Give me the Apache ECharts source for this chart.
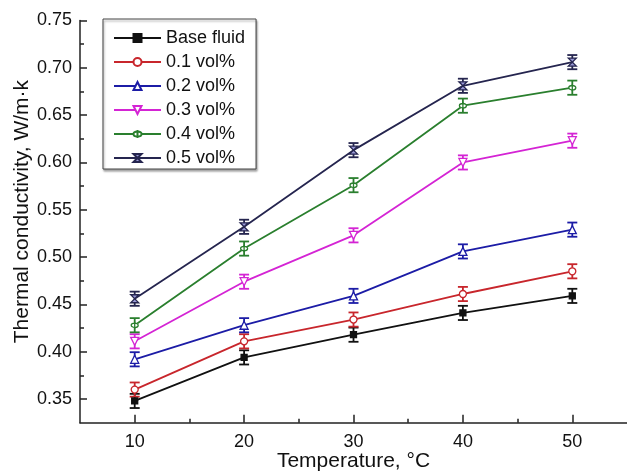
<!DOCTYPE html>
<html>
<head>
<meta charset="utf-8">
<script src="https://cdn.jsdelivr.net/npm/echarts@6/dist/echarts.min.js"></script>
<style>
  html, body { margin: 0; padding: 0; background: #fff; }
  #chart { width: 627px; height: 472px; }
</style>
</head>
<body>
<div id="chart"></div>
<script>
// Temperature (°C) on the x axis
const temperatures = [10, 20, 30, 40, 50];

// Thermal conductivity, W/m·k
const baseFluid = [0.348, 0.394, 0.418, 0.441, 0.459];
const vol01 = [0.360, 0.411, 0.434, 0.461, 0.485];
const vol02 = [0.392, 0.428, 0.459, 0.506, 0.529];
const vol03 = [0.411, 0.474, 0.523, 0.600, 0.623];
const vol04 = [0.428, 0.509, 0.576, 0.660, 0.679];
const vol05 = [0.456, 0.532, 0.613, 0.681, 0.706];

// Half-height of each error bar
const errBase = [0.0075, 0.0075, 0.0075, 0.0075, 0.0075];
const err01 = [0.0075, 0.0075, 0.0075, 0.0075, 0.0075];
const err02 = [0.0075, 0.0075, 0.0075, 0.0075, 0.0075];
const err03 = [0.0075, 0.0075, 0.0075, 0.0075, 0.0075];
const err04 = [0.0075, 0.0075, 0.0075, 0.0075, 0.0075];
const err05 = [0.0075, 0.0075, 0.0075, 0.0075, 0.0075];

const seriesNames = ['Base fluid', '0.1 vol%', '0.2 vol%', '0.3 vol%', '0.4 vol%', '0.5 vol%'];

// Axis ticks
const xMajorTicks = [10, 20, 30, 40, 50];
const xMinorTicks = [15, 25, 35, 45];
const yMajorTicks = [0.35, 0.40, 0.45, 0.50, 0.55, 0.60, 0.65, 0.70, 0.75];
const yMinorTicks = [0.375, 0.425, 0.475, 0.525, 0.575, 0.625, 0.675, 0.725];

const values = [baseFluid, vol01, vol02, vol03, vol04, vol05];
const errors = [errBase, err01, err02, err03, err04, err05];
const colors = ['#111111', '#c8262c', '#1c1ca6', '#d424d4', '#2a7f2e', '#25254f'];
const fills = ['#111111', '#ffffff', '#ffffff', '#ffffff', '#ffffff', '#9a9ad8'];
const symbols = [
  'rect',
  'circle',
  'triangle',
  'triangle',
  'path://M0,-5 A5,5 0 1 1 0,5 A5,5 0 1 1 0,-5 Z M0,-8 L0,8',
  'path://M-4,-5 L4,-5 L-4,5 L4,5 Z'
];
const symbolRotates = [0, 0, 0, 180, 0, 0];
const symbolSizes = [6, 7, 8, 8, 7, 8];

const FONT = '"Liberation Sans", Arial, Helvetica, sans-serif';

const chart = echarts.init(document.getElementById('chart'), null, { renderer: 'canvas' });

const series = [];
values.forEach((vals, i) => {
  // error bars drawn as vertical whiskers with caps
  series.push({
    name: seriesNames[i] + ' error',
    type: 'custom',
    xAxisIndex: 0,
    yAxisIndex: 0,
    z: 3,
    silent: true,
    data: temperatures.map((t, k) => [t, vals[k] - errors[i][k], vals[k] + errors[i][k]]),
    renderItem: function (params, api) {
      const lo = api.coord([api.value(0), api.value(1)]);
      const hi = api.coord([api.value(0), api.value(2)]);
      const hw = 5;
      const style = { stroke: colors[i], lineWidth: 1.8, fill: null };
      return {
        type: 'group',
        children: [
          { type: 'line', shape: { x1: lo[0], y1: lo[1], x2: hi[0], y2: hi[1] }, style: style },
          { type: 'line', shape: { x1: lo[0] - hw, y1: lo[1], x2: lo[0] + hw, y2: lo[1] }, style: style },
          { type: 'line', shape: { x1: hi[0] - hw, y1: hi[1], x2: hi[0] + hw, y2: hi[1] }, style: style }
        ]
      };
    }
  });
  series.push({
    name: seriesNames[i],
    type: 'line',
    xAxisIndex: 0,
    yAxisIndex: 0,
    z: 4,
    data: temperatures.map((t, k) => [t, vals[k]]),
    symbol: symbols[i],
    symbolSize: symbolSizes[i],
    symbolRotate: symbolRotates[i],
    showAllSymbol: true,
    lineStyle: { color: colors[i], width: 1.8 },
    itemStyle: { color: fills[i], borderColor: colors[i], borderWidth: 1.3 },
    emphasis: { disabled: true },
    animation: false
  });
});

const option = {
  animation: false,
  backgroundColor: '#ffffff',
  textStyle: { fontFamily: FONT },
  grid: { left: 80, right: 0, top: 20.5, bottom: 49.3, containLabel: false, outerBoundsMode: 'none' },
  legend: {
    data: seriesNames,
    orient: 'vertical',
    left: 103,
    top: 19,
    padding: [10, 11, 2, 10],
    itemWidth: 47,
    itemHeight: 10,
    itemGap: 6,
    borderColor: '#444',
    borderWidth: 1,
    backgroundColor: '#ffffff',
    shadowColor: 'rgba(0,0,0,0.35)',
    shadowBlur: 2,
    shadowOffsetX: 1,
    shadowOffsetY: 2,
    textStyle: { fontFamily: FONT, fontSize: 18, color: '#111', lineHeight: 18 },
    selectedMode: false
  },
  xAxis: [
    {
      type: 'value',
      min: 5,
      max: 55,
      interval: 5,
      name: 'Temperature, °C',
      nameLocation: 'middle',
      nameGap: 28,
      nameMoveOverlap: false,
      nameTextStyle: { fontFamily: FONT, fontSize: 21, color: '#111' },
      axisLine: { show: true, onZero: false, lineStyle: { color: '#222', width: 1.5 } },
      axisTick: { show: true, inside: true, length: 8, customValues: xMajorTicks, lineStyle: { color: '#222', width: 1.5 } },
      axisLabel: { customValues: xMajorTicks, fontFamily: FONT, fontSize: 18, color: '#111', margin: 10 },
      splitLine: { show: false }
    },
    {
      type: 'value',
      position: 'bottom',
      min: 5,
      max: 55,
      interval: 5,
      axisLine: { show: false, onZero: false },
      axisTick: { show: true, inside: true, length: 4, customValues: xMinorTicks, lineStyle: { color: '#222', width: 1.5 } },
      axisLabel: { show: false },
      splitLine: { show: false }
    }
  ],
  yAxis: [
    {
      type: 'value',
      min: 0.325,
      max: 0.75,
      interval: 0.025,
      name: 'Thermal conductivity, W/m·k',
      nameLocation: 'middle',
      nameGap: 47,
      nameRotate: 90,
      nameMoveOverlap: false,
      nameTextStyle: { fontFamily: FONT, fontSize: 21, color: '#111', padding: [0, 0, 0, 20] },
      axisLine: { show: true, onZero: false, lineStyle: { color: '#222', width: 1.5 } },
      axisTick: { show: true, inside: true, length: 7, customValues: yMajorTicks, lineStyle: { color: '#222', width: 1.5 } },
      axisLabel: {
        customValues: yMajorTicks,
        fontFamily: FONT, fontSize: 18, color: '#111', margin: 8,
        formatter: v => v.toFixed(2)
      },
      splitLine: { show: false }
    },
    {
      type: 'value',
      position: 'left',
      offset: 0,
      min: 0.325,
      max: 0.75,
      interval: 0.025,
      axisLine: { show: false, onZero: false },
      axisTick: { show: true, inside: true, length: 4, customValues: yMinorTicks, lineStyle: { color: '#222', width: 1.5 } },
      axisLabel: { show: false },
      splitLine: { show: false }
    }
  ],
  series: series
};

chart.setOption(option);
</script>
</body>
</html>
